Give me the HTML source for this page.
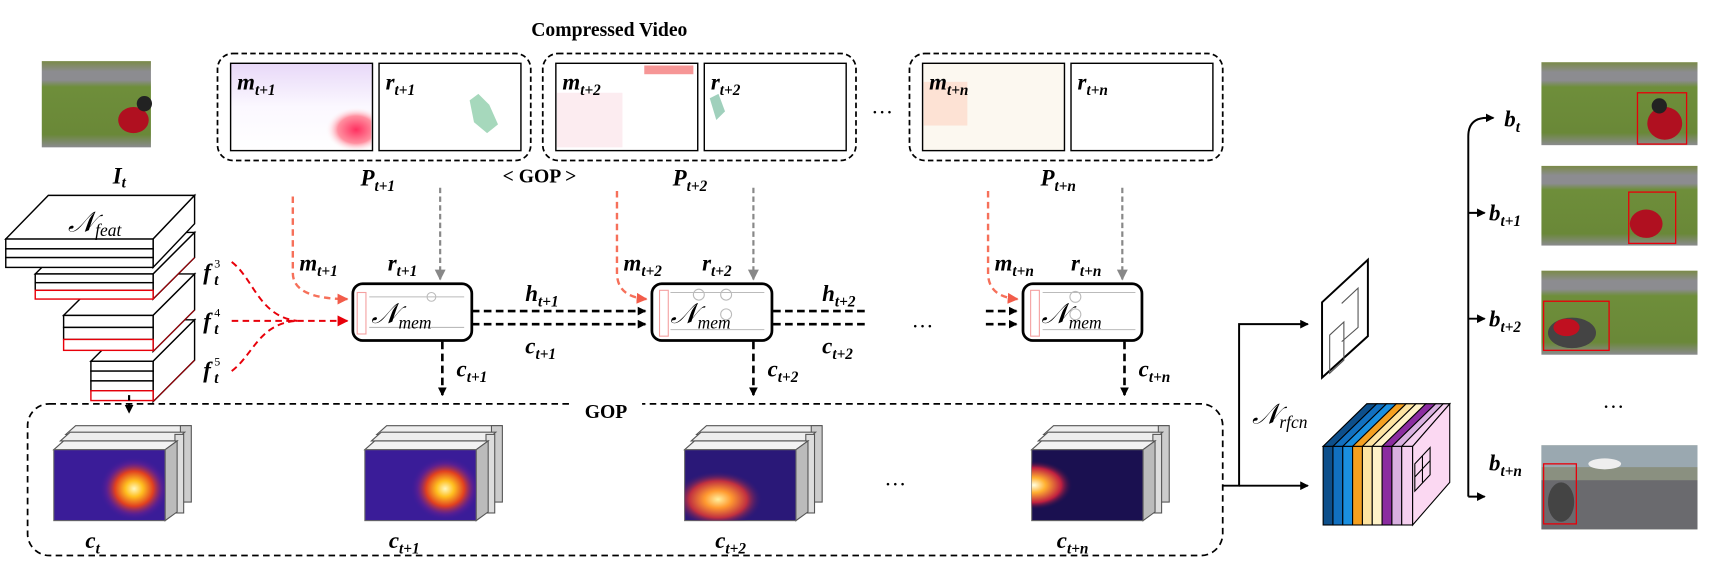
<!DOCTYPE html>
<html><head><meta charset="utf-8"><style>
html,body{margin:0;padding:0;background:#fff;}
svg{display:block;}
.L{font-family:"Liberation Serif",serif;font-weight:bold;font-style:italic;font-size:21px;fill:#000;}
.s{font-size:14px;}
.T{font-family:"Liberation Serif",serif;font-weight:bold;font-size:18px;}
.N{font-family:"Liberation Serif",serif;font-style:italic;font-size:26px;}
.ns{font-size:16px;}
.sup{font-family:"Liberation Serif",serif;font-size:11px;fill:#000;}
</style></head><body>
<svg width="1712" height="561" viewBox="0 0 1568 514" xmlns="http://www.w3.org/2000/svg">
<defs>
<marker id="ak" markerWidth="8" markerHeight="8" refX="7" refY="4" orient="auto" markerUnits="userSpaceOnUse"><path d="M0,0 L8,4 L0,8 z" fill="#000"/></marker>
<marker id="ar" markerWidth="10" markerHeight="10" refX="9" refY="5" orient="auto" markerUnits="userSpaceOnUse"><path d="M0,0 L10,5 L0,10 z" fill="#f25c4a"/></marker>
<marker id="ar2" markerWidth="10" markerHeight="10" refX="9" refY="5" orient="auto" markerUnits="userSpaceOnUse"><path d="M0,0 L10,5 L0,10 z" fill="#e8000a"/></marker>
<marker id="ag" markerWidth="10" markerHeight="10" refX="9" refY="5" orient="auto" markerUnits="userSpaceOnUse"><path d="M0,0 L10,5 L0,10 z" fill="#888"/></marker>
<linearGradient id="grass" x1="0" y1="0" x2="0" y2="1">
<stop offset="0" stop-color="#7a8a48"/><stop offset="0.12" stop-color="#8c8c90"/><stop offset="0.22" stop-color="#8c8c90"/><stop offset="0.3" stop-color="#6e8e3a"/><stop offset="0.85" stop-color="#6a8838"/><stop offset="1" stop-color="#8a8a8e"/></linearGradient>
<radialGradient id="h1" cx="0.6" cy="0.55" r="0.45"><stop offset="0" stop-color="#fff8c0"/><stop offset="0.25" stop-color="#ffc020"/><stop offset="0.55" stop-color="#e04020"/><stop offset="0.8" stop-color="#6a2090" stop-opacity="0.6"/><stop offset="1" stop-color="#3a1c98" stop-opacity="0"/></radialGradient>
<radialGradient id="h3" cx="0.3" cy="0.7" r="0.4"><stop offset="0" stop-color="#fff0a0"/><stop offset="0.3" stop-color="#ff9a30"/><stop offset="0.65" stop-color="#c03040"/><stop offset="1" stop-color="#2a1878" stop-opacity="0"/></radialGradient>
<radialGradient id="h4" cx="0.02" cy="0.5" r="0.35"><stop offset="0" stop-color="#ffffe0"/><stop offset="0.3" stop-color="#ffb030"/><stop offset="0.7" stop-color="#c02040"/><stop offset="1" stop-color="#1a1050" stop-opacity="0"/></radialGradient>
<radialGradient id="mv" cx="0.8" cy="0.65" r="0.4"><stop offset="0" stop-color="#ff3060"/><stop offset="0.6" stop-color="#ff90a0"/><stop offset="1" stop-color="#fff" stop-opacity="0"/></radialGradient>
<linearGradient id="mvtop" x1="0" y1="0" x2="0" y2="1"><stop offset="0" stop-color="#e8d8f8"/><stop offset="0.5" stop-color="#fbf8ff"/><stop offset="1" stop-color="#fff"/></linearGradient>
</defs>

<text class="T" x="558" y="33" text-anchor="middle">Compressed Video</text>

<rect x="38" y="56" width="100" height="79" fill="url(#grass)"/>
<ellipse cx="122" cy="110" rx="14" ry="12" fill="#b01020"/>
<circle cx="132" cy="95" r="7" fill="#222"/>
<text class="L" x="103" y="168">I<tspan class="s" dy="4">t</tspan></text>

<g fill="none" stroke="#000" stroke-width="1.6" stroke-dasharray="5,3">
<rect x="199" y="49" width="287" height="98" rx="14"/>
<rect x="497" y="49" width="287" height="98" rx="14"/>
<rect x="833" y="49" width="287" height="98" rx="14"/>
</g>
<g stroke="#000" stroke-width="1.3">
<rect x="211" y="58" width="130" height="80" fill="url(#mvtop)"/>
<rect x="347" y="58" width="130" height="80" fill="#fff"/>
<rect x="509" y="58" width="130" height="80" fill="#fff"/>
<rect x="645" y="58" width="130" height="80" fill="#fff"/>
<rect x="845" y="58" width="130" height="80" fill="#fcf8f0"/>
<rect x="981" y="58" width="130" height="80" fill="#fff"/>
</g>
<rect x="270" y="85" width="70" height="52" fill="url(#mv)"/>
<rect x="510" y="85" width="60" height="50" fill="#fbe4ea" opacity="0.7"/>
<rect x="590" y="60" width="45" height="8" fill="#f05050" opacity="0.6"/>
<rect x="846" y="75" width="40" height="40" fill="#fdd8c8" opacity="0.7"/>
<path d="M430,92 l8,-6 l10,10 l8,18 l-10,8 l-12,-10z" fill="#80c8a0" opacity="0.7"/>
<path d="M650,90 l8,-4 l6,16 l-8,8z" fill="#60b090" opacity="0.6"/>
<text class="L" x="217" y="82">m<tspan class="s" dy="5">t+1</tspan></text>
<text class="L" x="353" y="82">r<tspan class="s" dy="5">t+1</tspan></text>
<text class="L" x="515" y="82">m<tspan class="s" dy="5">t+2</tspan></text>
<text class="L" x="651" y="82">r<tspan class="s" dy="5">t+2</tspan></text>
<text class="L" x="851" y="82">m<tspan class="s" dy="5">t+n</tspan></text>
<text class="L" x="987" y="82">r<tspan class="s" dy="5">t+n</tspan></text>
<text x="808" y="104" font-family="Liberation Serif" font-size="20" text-anchor="middle">…</text>
<text class="L" x="330" y="170">P<tspan class="s" dy="5">t+1</tspan></text>
<text class="T" x="494" y="167" text-anchor="middle" font-size="15">&lt;  GOP  &gt;</text>
<text class="L" x="616" y="170">P<tspan class="s" dy="5">t+2</tspan></text>
<text class="L" x="953" y="170">P<tspan class="s" dy="5">t+n</tspan></text>

<g stroke="#000" stroke-width="1.3" fill="#fff">
 <path d="M83,331 L121,293 L178,293 L140,331Z"/>
 <path d="M140,331 L178,293 L178,330 L140,368Z"/>
 <rect x="83" y="331" width="57" height="9"/><rect x="83" y="340" width="57" height="9"/><rect x="83" y="349" width="57" height="9"/>
 <rect x="83" y="358" width="57" height="9" stroke="#e8000a"/>
 <path d="M58,289 L96,251 L178,251 L140,289Z"/>
 <path d="M140,289 L178,251 L178,284 L140,322Z"/>
 <rect x="58" y="289" width="82" height="11"/><rect x="58" y="300" width="82" height="11"/>
 <rect x="58" y="311" width="82" height="10" stroke="#e8000a"/>
 <path d="M32,251 L70,213 L178,213 L140,251Z"/>
 <path d="M140,251 L178,213 L178,236 L140,274Z"/>
 <rect x="32" y="251" width="108" height="8"/><rect x="32" y="259" width="108" height="7"/>
 <rect x="32" y="266" width="108" height="8" stroke="#e8000a"/>
 <path d="M5,219 L44,179 L178,179 L140,219Z"/>
 <path d="M140,219 L178,179 L178,205 L140,245Z"/>
 <rect x="5" y="219" width="135" height="9"/><rect x="5" y="228" width="135" height="8"/><rect x="5" y="236" width="135" height="9"/>
</g>
<g stroke="#e8000a" stroke-width="1" fill="none" opacity="0.7">
<path d="M140,274 L178,236"/><path d="M140,322 L178,284"/><path d="M140,368 L178,330"/>
</g>
<text class="N" x="62" y="212">𝒩<tspan class="ns" dy="4">feat</tspan></text>
<text class="L" x="186" y="256">f</text><text class="L s" x="196" y="261">t</text><text class="sup" x="196" y="245">3</text>
<text class="L" x="186" y="301">f</text><text class="L s" x="196" y="306">t</text><text class="sup" x="196" y="290">4</text>
<text class="L" x="186" y="346">f</text><text class="L s" x="196" y="351">t</text><text class="sup" x="196" y="335">5</text>
<g stroke="#e8000a" stroke-width="1.8" fill="none" stroke-dasharray="6,4">
<path d="M212,240 C232,255 237,290 272,294"/>
<path d="M212,340 C232,325 237,296 272,294"/>
<path d="M212,294 L318,294" marker-end="url(#ar2)"/>
</g>

<g fill="#fff" stroke="#000" stroke-width="2.5">
<rect x="323" y="260" width="109" height="52" rx="9"/>
<rect x="597" y="260" width="110" height="52" rx="9"/>
<rect x="937" y="260" width="109" height="52" rx="9"/>
</g>
<g stroke="#f4a0a0" stroke-width="1" fill="none">
<rect x="327" y="268" width="8" height="38"/><rect x="604" y="266" width="8" height="42"/><rect x="944" y="266" width="8" height="42"/>
</g>
<g stroke="#bbb" stroke-width="1" fill="none">
<path d="M338,272 H425 M338,300 H425"/><circle cx="395" cy="272" r="4"/>
<path d="M614,268 H700 M614,302 H700"/><circle cx="640" cy="270" r="5"/><circle cx="665" cy="270" r="5"/><circle cx="665" cy="288" r="5"/>
<path d="M955,268 H1040 M955,302 H1040"/><circle cx="985" cy="272" r="5"/><circle cx="985" cy="288" r="5"/>
</g>
<text class="N" x="340" y="296">𝒩<tspan class="ns" dy="5">mem</tspan></text>
<text class="N" x="614" y="296">𝒩<tspan class="ns" dy="5">mem</tspan></text>
<text class="N" x="954" y="296">𝒩<tspan class="ns" dy="5">mem</tspan></text>

<g stroke="#f6705a" stroke-width="2.2" fill="none" stroke-dasharray="6,4">
<path d="M268,180 V250 Q268,274 318,274" marker-end="url(#ar)"/>
<path d="M565,175 V250 Q565,272 592,274" marker-end="url(#ar)"/>
<path d="M905,175 V250 Q905,272 932,274" marker-end="url(#ar)"/>
</g>
<g stroke="#888" stroke-width="2" fill="none" stroke-dasharray="5,3">
<path d="M403,172 V256" marker-end="url(#ag)"/>
<path d="M690,172 V256" marker-end="url(#ag)"/>
<path d="M1028,172 V256" marker-end="url(#ag)"/>
</g>
<text class="L" x="274" y="248">m<tspan class="s" dy="5">t+1</tspan></text>
<text class="L" x="355" y="248">r<tspan class="s" dy="5">t+1</tspan></text>
<text class="L" x="571" y="248">m<tspan class="s" dy="5">t+2</tspan></text>
<text class="L" x="643" y="248">r<tspan class="s" dy="5">t+2</tspan></text>
<text class="L" x="911" y="248">m<tspan class="s" dy="5">t+n</tspan></text>
<text class="L" x="981" y="248">r<tspan class="s" dy="5">t+n</tspan></text>

<g stroke="#000" stroke-width="2.4" fill="none" stroke-dasharray="7,4">
<path d="M432,285 H591" marker-end="url(#ak)"/><path d="M432,297 H591" marker-end="url(#ak)"/>
<path d="M708,285 H795"/><path d="M708,297 H795"/>
<path d="M903,285 H931" marker-end="url(#ak)"/><path d="M903,297 H931" marker-end="url(#ak)"/>
<path d="M405,313 V362" marker-end="url(#ak)"/>
<path d="M690,313 V362" marker-end="url(#ak)"/>
<path d="M1030,313 V362" marker-end="url(#ak)"/>
</g>
<text class="L" x="481" y="276">h<tspan class="s" dy="5">t+1</tspan></text>
<text class="L" x="481" y="324">c<tspan class="s" dy="5">t+1</tspan></text>
<text class="L" x="753" y="276">h<tspan class="s" dy="5">t+2</tspan></text>
<text class="L" x="753" y="324">c<tspan class="s" dy="5">t+2</tspan></text>
<text x="845" y="300" font-family="Liberation Serif" font-size="20" text-anchor="middle">…</text>
<text class="L" x="418" y="345">c<tspan class="s" dy="5">t+1</tspan></text>
<text class="L" x="703" y="345">c<tspan class="s" dy="5">t+2</tspan></text>
<text class="L" x="1043" y="345">c<tspan class="s" dy="5">t+n</tspan></text>

<rect x="25" y="370" width="1095" height="139" rx="20" fill="none" stroke="#000" stroke-width="1.6" stroke-dasharray="6,4"/>
<rect x="522" y="364" width="66" height="16" fill="#fff"/>
<text class="T" x="555" y="383" text-anchor="middle">GOP</text>
<path d="M118,362 V378" stroke="#000" stroke-width="2" stroke-dasharray="5,3" marker-end="url(#ak)"/>

<g id="hm">
<g stroke="#555" stroke-width="1" fill="#ddd">
<path d="M60,398 L69,390 L174,390 L165,398Z" fill="#eee"/>
<rect x="165" y="390" width="10" height="70" fill="#ccc"/>
<path d="M55,404 L64,396 L169,396 L160,404Z" fill="#eee"/>
<rect x="160" y="398" width="8" height="72" fill="#ddd"/>
<path d="M49,412 L58,404 L162,404 L151,412Z" fill="#f2f2f2"/>
<path d="M151,412 L162,404 L162,469 L151,477Z" fill="#bbb"/>
</g>
</g>
<use href="#hm" x="285" y="0"/><use href="#hm" x="578" y="0"/><use href="#hm" x="896" y="0"/>
<g stroke="#666" stroke-width="1">
<rect x="49" y="412" width="102" height="65" fill="#3a1c98"/>
<rect x="334" y="412" width="102" height="65" fill="#3a1c98"/>
<rect x="627" y="412" width="102" height="65" fill="#2a1878"/>
<rect x="945" y="412" width="102" height="65" fill="#1a1050"/>
</g>
<rect x="80" y="412" width="71" height="65" fill="url(#h1)"/>
<rect x="365" y="412" width="71" height="65" fill="url(#h1)"/>
<rect x="627" y="412" width="102" height="65" fill="url(#h3)"/>
<rect x="945" y="412" width="102" height="65" fill="url(#h4)"/>
<text class="L" x="78" y="502" font-size="26">c<tspan class="s" dy="5" font-size="17">t</tspan></text>
<text class="L" x="356" y="502" font-size="26">c<tspan class="s" dy="5" font-size="17">t+1</tspan></text>
<text class="L" x="655" y="502" font-size="26">c<tspan class="s" dy="5" font-size="17">t+2</tspan></text>
<text class="L" x="968" y="502" font-size="26">c<tspan class="s" dy="5" font-size="17">t+n</tspan></text>
<text x="820" y="445" font-family="Liberation Serif" font-size="20" text-anchor="middle">…</text>

<g stroke="#000" stroke-width="1.8" fill="none">
<path d="M1120,445 H1135 V297 H1198" marker-end="url(#ak)"/>
<path d="M1135,445 H1198" marker-end="url(#ak)"/>
</g>
<text class="N" x="1147" y="388" font-size="22">𝒩<tspan class="ns" dy="4" font-size="14">rfcn</tspan></text>
<path d="M1211,277 L1253,238 L1253,308 L1211,346Z" fill="#fff" stroke="#000" stroke-width="1.8"/>
<path d="M1218,307 L1231,295 L1231,330 L1218,342Z M1229,278 L1244,264 L1244,300 L1229,313" fill="none" stroke="#555" stroke-width="1"/>
<g stroke="#000" stroke-width="1">
<path d="M1212,409 L1252,370 L1328,370 L1294,409Z" fill="#fff"/>
<path d="M1212,409 L1252,370 L1261,370 L1221,409Z" fill="#0d4f8b"/>
<path d="M1221,409 L1261,370 L1270,370 L1230,409Z" fill="#1170c0"/>
<path d="M1230,409 L1270,370 L1279,370 L1239,409Z" fill="#1a8fe0"/>
<path d="M1239,409 L1279,370 L1288,370 L1248,409Z" fill="#f5a020"/>
<path d="M1248,409 L1288,370 L1297,370 L1257,409Z" fill="#fde3a0"/>
<path d="M1257,409 L1297,370 L1306,370 L1266,409Z" fill="#fff3c8"/>
<path d="M1266,409 L1306,370 L1315,370 L1275,409Z" fill="#8b2ca0"/>
<path d="M1275,409 L1315,370 L1322,370 L1284,409Z" fill="#d8b0e0"/>
<path d="M1284,409 L1322,370 L1328,370 L1294,409Z" fill="#f5d0f0"/>
<rect x="1212" y="409" width="9" height="72" fill="#0d4f8b"/>
<rect x="1221" y="409" width="9" height="72" fill="#1170c0"/>
<rect x="1230" y="409" width="9" height="72" fill="#1a8fe0"/>
<rect x="1239" y="409" width="9" height="72" fill="#f5a020"/>
<rect x="1248" y="409" width="9" height="72" fill="#fde3a0"/>
<rect x="1257" y="409" width="9" height="72" fill="#fff3c8"/>
<rect x="1266" y="409" width="9" height="72" fill="#8b2ca0"/>
<rect x="1275" y="409" width="9" height="72" fill="#d8b0e0"/>
<rect x="1284" y="409" width="10" height="72" fill="#f5d0f0"/>
<path d="M1294,409 L1328,370 L1328,442 L1294,481Z" fill="#fbd8f2"/>
<path d="M1296,425 L1310,410 L1310,435 L1296,450Z M1303,418 V442 M1296,437 L1310,422" fill="none"/>
</g>

<g stroke="#000" stroke-width="1.8" fill="none">
<path d="M1345,455 V125 Q1345,108 1362,108 H1368" marker-end="url(#ak)"/>
<path d="M1345,195 H1360" marker-end="url(#ak)"/>
<path d="M1345,292 H1360" marker-end="url(#ak)"/>
<path d="M1345,455 H1360" marker-end="url(#ak)"/>
</g>
<text class="L" x="1378" y="116" font-size="22">b<tspan class="s" dy="5">t</tspan></text>
<text class="L" x="1364" y="202" font-size="22">b<tspan class="s" dy="5">t+1</tspan></text>
<text class="L" x="1364" y="299" font-size="22">b<tspan class="s" dy="5">t+2</tspan></text>
<text class="L" x="1364" y="431" font-size="22">b<tspan class="s" dy="5">t+n</tspan></text>
<text x="1478" y="374" font-family="Liberation Serif" font-size="20" text-anchor="middle">…</text>
<rect x="1412" y="57" width="143" height="76" fill="url(#grass)"/>
<rect x="1412" y="152" width="143" height="73" fill="url(#grass)"/>
<rect x="1412" y="248" width="143" height="77" fill="url(#grass)"/>
<rect x="1412" y="408" width="143" height="77" fill="#8a9080"/>
<rect x="1412" y="408" width="143" height="20" fill="#9aa8b0"/>
<rect x="1412" y="440" width="143" height="45" fill="#6a6a6e"/>
<ellipse cx="1525" cy="113" rx="16" ry="15" fill="#b01020"/><circle cx="1520" cy="97" r="7" fill="#222"/>
<ellipse cx="1508" cy="205" rx="15" ry="13" fill="#b01020"/>
<ellipse cx="1440" cy="305" rx="22" ry="14" fill="#444"/><ellipse cx="1435" cy="300" rx="12" ry="8" fill="#c01020"/>
<ellipse cx="1430" cy="460" rx="12" ry="18" fill="#444"/>
<ellipse cx="1470" cy="425" rx="15" ry="5" fill="#eee"/>
<g fill="none" stroke="#e8000a" stroke-width="1.2">
<rect x="1500" y="85" width="45" height="47"/><rect x="1492" y="176" width="43" height="47"/>
<rect x="1414" y="276" width="60" height="45"/><rect x="1414" y="425" width="30" height="55"/>
</g>
<text x="1290" y="527" font-family="Liberation Sans" font-size="11" fill="#bbb">https://blog.csdn.net/weixin_41963310</text>
</svg>
</body></html>
